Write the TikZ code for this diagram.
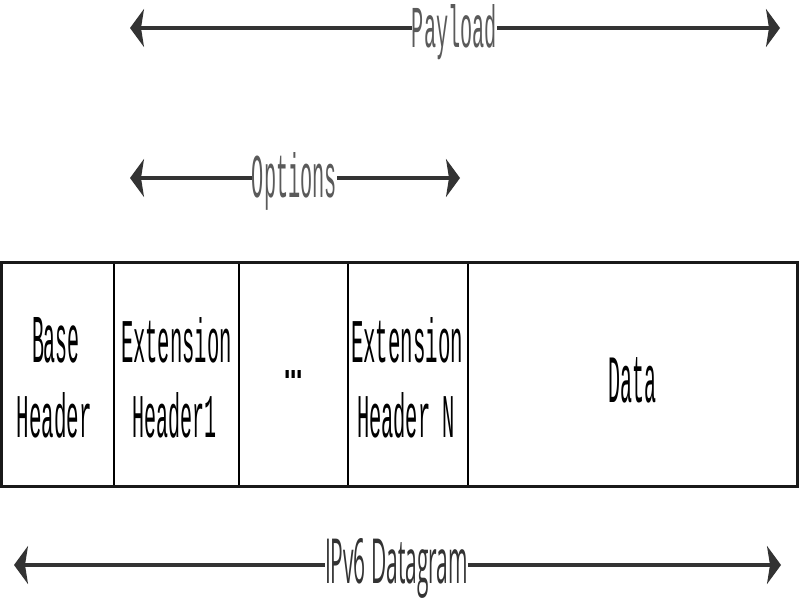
\documentclass[tikz,border=0pt]{standalone}
\usepackage{fontspec}
\usepackage{graphicx}
\usetikzlibrary{arrows.meta}
\newfontfamily\monof{Liberation Mono}
\newfontfamily\sansf{Open Sans}
\newfontfamily\dotf{Liberation Sans}
\newcommand\sqz[3]{\resizebox{#1pt}{#2pt}{#3}}
\definecolor{arrgray}{HTML}{333333}
\definecolor{lblgray}{HTML}{5A5A5A}
\begin{document}
\begin{tikzpicture}[x=1pt,y=-1pt,
  arr/.style={draw=arrgray,line width=4.5pt,-{Stealth[length=14pt,width=38pt,inset=3pt]}},
  cell/.style={draw=black,line width=1.5pt,minimum height=224pt,inner sep=0pt,outer sep=0pt,anchor=north west},
  txt/.style={inner sep=0pt,anchor=base,font=\monof},
  lbl/.style={inner sep=0pt,anchor=base,font=\monof,text=lblgray},
]
\useasboundingbox (0,0) rectangle (800,600);

% cells
\node[cell,minimum width=113pt] (c1) at (1,262) {};
\node[cell,minimum width=125pt] (c2) at (114,262) {};
\node[cell,minimum width=109pt] (c3) at (239,262) {};
\node[cell,minimum width=120pt] (c4) at (348,262) {};
\node[cell,minimum width=329pt] (c5) at (468,262) {};
\draw[line width=3pt,draw=black!90] (c1.north west) rectangle (c5.south east);

% cell texts
\node[txt] (t1a) at (56,362) {\sqz{48}{45}{Base}};
\node[txt] (t1b) at (54.5,437) {\sqz{75}{45}{Header}};
\node[txt] (t2a) at (176.5,362) {\sqz{111}{45}{Extension}};
\node[txt] (t2b) at (175,437) {\sqz{84}{45}{Header1}};
\node[txt,font=\dotf\bfseries] (t3) at (293.5,378) {\sqz{19}{8}{...}};
\node[txt] (t4a) at (407,362) {\sqz{112}{45}{Extension}};
\node[txt] (t4b) at (406,437) {\sqz{98}{45}{Header N}};
\node[txt] (t5) at (632,402) {\sqz{48}{45}{Data}};

% Payload
\node[lbl] (pay) at (454.5,47) {\sqz{85}{43}{Payload}};
\coordinate (payL) at (130,28);
\coordinate (payR) at (780,28);
\draw[arr] (pay.west |- payL) -- (payL);
\draw[arr] (pay.east |- payR) -- (payR);

% Options
\node[lbl] (opt) at (294.5,197) {\sqz{85}{45}{Options}};
\coordinate (optL) at (130,178);
\coordinate (optR) at (460,178);
\draw[arr] (opt.west |- optL) -- (optL);
\draw[arr] (opt.east |- optR) -- (optR);

% IPv6 Datagram
\node[lbl,font=\sansf,text=arrgray] (ipv) at (396.5,583) {\sqz{143}{45}{IPv6 Datagram}};
\coordinate (ipvL) at (14,565);
\coordinate (ipvR) at (781,565);
\draw[arr] (ipv.west |- ipvL) -- (ipvL);
\draw[arr] (ipv.east |- ipvR) -- (ipvR);
\end{tikzpicture}
\end{document}
